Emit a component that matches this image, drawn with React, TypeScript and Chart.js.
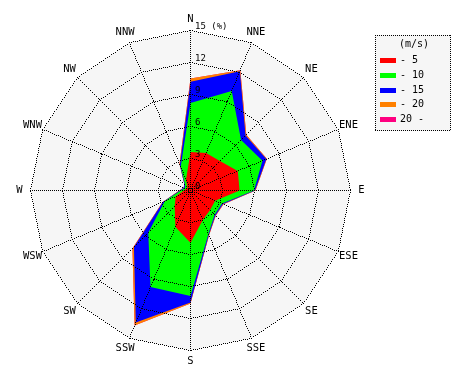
import React, { useEffect, useRef } from "react";
import { Chart, registerables } from "chart.js";

Chart.register(...registerables);

// 16 wind directions, clockwise from north
const directions = ["N", "NNE", "NE", "ENE", "E", "ESE", "SE", "SSE", "S", "SSW", "SW", "WSW", "W", "WNW", "NW", "NNW"];

// frequency (%) of each speed class per direction (not cumulative)
const speed0to5 = [3.6, 3.8, 3.9, 4.8, 4.6, 2.5, 2.6, 3.0, 4.9, 3.7, 2.1, 1.5, 0.6, 0.4, 0.4, 1.1];
const speed5to10 = [4.6, 6.3, 2.8, 2.5, 1.35, 0.7, 0.6, 1.4, 5.0, 6.1, 3.5, 1.1, 0.3, 0.2, 0.3, 1.3];
const speed10to15 = [2.0, 2.0, 0.6, 0.4, 0.1, 0.1, 0.1, 0.1, 0.6, 3.6, 1.9, 0.2, 0.1, 0.1, 0.1, 0.2];
const speed15to20 = [0.3, 0.1, 0.1, 0.05, 0.05, 0.05, 0.05, 0.05, 0.1, 0.3, 0.2, 0.05, 0.05, 0.0, 0.0, 0.1];
const speed20plus = [0, 0, 0, 0, 0, 0, 0, 0, 0, 0, 0, 0, 0, 0, 0, 0];

const speedLabels = ["- 5", "- 10", "- 15", "- 20", "20 -"];
const speedColors = ["#ff0000", "#00ff00", "#0000ff", "#ff8000", "#ff0080"];

const tickValues = [0, 3, 6, 9, 12, 15];
const tickLabels = ["0", "3", "6", "9", "12", "15 (%)"];
const unitLabel = "(m/s)";

const FONT = '"DejaVu Sans Mono", monospace';

function cumulative(series: number[][]): number[][] {
  const out: number[][] = [];
  let acc = series[0].map(() => 0);
  series.forEach((s) => {
    acc = acc.map((v, i) => Math.round((v + s[i]) * 1000) / 1000);
    out.push(acc.slice());
  });
  return out;
}

// crisp 1px dotted line (1 on, 1 off), like the reference
function dotLine(ctx: CanvasRenderingContext2D, x0: number, y0: number, x1: number, y1: number) {
  const dx = x1 - x0;
  const dy = y1 - y0;
  const n = Math.max(1, Math.round(Math.max(Math.abs(dx), Math.abs(dy))));
  for (let k = 0; k <= n; k += 2) {
    const x = Math.round(x0 + (dx * k) / n);
    const y = Math.round(y0 + (dy * k) / n);
    ctx.fillRect(x, y, 1, 1);
  }
}

const overlayPlugin = {
  id: "windroseOverlay",
  beforeDraw(chart: any) {
    chart.ctx.save();
    chart.ctx.translate(0.5, 0.5);
  },
  afterDraw(chart: any) {
    const ctx: CanvasRenderingContext2D = chart.ctx;
    ctx.restore();
    const s: any = chart.scales.r;
    const n = directions.length;
    ctx.save();
    // dotted grid on top of the data
    ctx.fillStyle = "#000";
    const outer = s.getDistanceFromCenterForValue(s.max);
    for (let i = 0; i < n; i++) {
      const p = s.getPointPosition(i, outer);
      dotLine(ctx, s.xCenter, s.yCenter, p.x, p.y);
    }
    tickValues.forEach((v) => {
      if (v <= 0) return;
      const r = s.getDistanceFromCenterForValue(v);
      for (let i = 0; i < n; i++) {
        const a = s.getPointPosition(i, r);
        const b = s.getPointPosition((i + 1) % n, r);
        dotLine(ctx, a.x, a.y, b.x, b.y);
      }
    });
    // direction labels
    ctx.font = "10.5px " + FONT;
    ctx.textAlign = "center";
    ctx.textBaseline = "middle";
    directions.forEach((d, i) => {
      const p = s.getPointPosition(i, s.drawingArea + 11);
      ctx.fillText(d, p.x + 0.5, p.y + 0.5);
    });
    // ring labels
    ctx.font = "9px " + FONT;
    ctx.textAlign = "left";
    tickValues.forEach((v, i) => {
      const r = s.getDistanceFromCenterForValue(v);
      ctx.fillText(tickLabels[i], s.xCenter + 5, s.yCenter - r - 3);
    });
    // legend box
    const lx = 375, ly = 35, lw = 76, lh = 96;
    ctx.fillStyle = "#f6f6f6";
    ctx.fillRect(lx, ly, lw, lh);
    ctx.fillStyle = "#000";
    dotLine(ctx, lx, ly, lx + lw - 1, ly);
    dotLine(ctx, lx, ly + lh - 1, lx + lw - 1, ly + lh - 1);
    dotLine(ctx, lx, ly, lx, ly + lh - 1);
    dotLine(ctx, lx + lw - 1, ly, lx + lw - 1, ly + lh - 1);
    ctx.font = "10px " + FONT;
    ctx.textAlign = "center";
    ctx.fillText(unitLabel, lx + 39, ly + 9);
    ctx.textAlign = "left";
    speedLabels.forEach((lab, i) => {
      const cy = ly + 25.5 + i * 14.8;
      ctx.fillStyle = speedColors[i];
      ctx.fillRect(lx + 5, Math.round(cy - 2.5), 16, 5);
      ctx.fillStyle = "#000";
      ctx.fillText(lab, lx + 25, cy);
    });
    ctx.restore();
  },
};

export default function App() {
  const ref = useRef<HTMLCanvasElement | null>(null);
  useEffect(() => {
    if (!ref.current) return;
    const cum = cumulative([speed0to5, speed5to10, speed10to15, speed15to20, speed20plus]);
    const datasets = cum.map((vals, i) => ({
      label: speedLabels[i],
      data: vals,
      backgroundColor: speedColors[i],
      borderColor: "rgba(0,0,0,0)",
      borderWidth: 0,
      pointRadius: 0,
      fill: "origin",
      tension: 0,
    }));
    const chart = new Chart(ref.current, {
      type: "radar",
      data: { labels: directions, datasets },
      options: {
        animation: false,
        responsive: false,
        devicePixelRatio: 1,
        layout: { padding: { left: 30, top: 30, right: 120, bottom: 30 } },
        plugins: { legend: { display: false }, tooltip: { enabled: false } },
        elements: { line: { borderWidth: 0 } },
        scales: {
          r: {
            min: 0,
            max: 15,
            startAngle: 0,
            backgroundColor: "#f6f6f6",
            ticks: { display: false, stepSize: 3 },
            pointLabels: { display: false },
            grid: { display: false, circular: false },
            angleLines: { display: false },
          },
        },
      } as any,
      plugins: [overlayPlugin as any],
    });
    return () => chart.destroy();
  }, []);
  return (
    <div style={{ position: "absolute", left: 0, top: 0, width: 470, height: 380, background: "#fff" }}>
      <canvas ref={ref} width={470} height={380} style={{ width: 470, height: 380, display: "block" }} />
    </div>
  );
}
